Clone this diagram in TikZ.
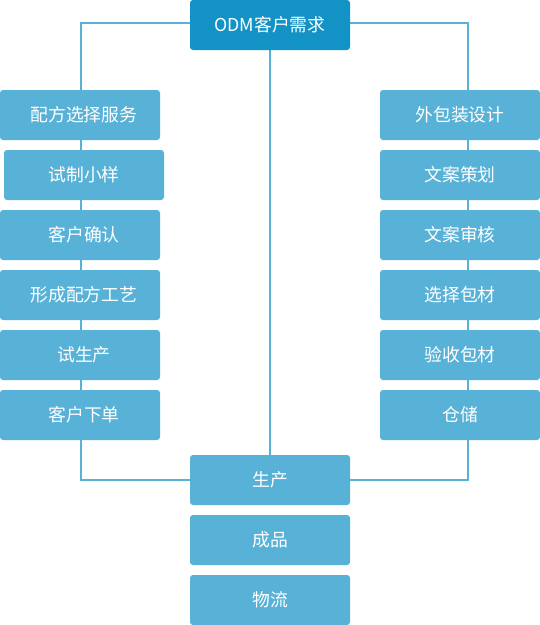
\documentclass[tikz,border=0pt]{standalone}
\usepackage{fontspec}
\setmainfont{Noto Sans CJK SC}
\usetikzlibrary{backgrounds}
\definecolor{boxblue}{HTML}{58B2D8}
\definecolor{topblue}{HTML}{1392C6}
\begin{document}
\begin{tikzpicture}[x=1pt,y=-1pt,
  stepbox/.style={fill=boxblue,rounded corners=3pt,minimum width=160pt,minimum height=50pt,inner sep=0pt,text=white,font=\fontsize{17.8pt}{20pt}\selectfont},
  leftbox/.style={stepbox,execute at begin node={\hspace*{8pt}}},
  topbox/.style={stepbox,fill=topblue},
  link/.style={draw=boxblue,line width=2.6pt}]
\useasboundingbox (0,0) rectangle (540,625);
% nodes
\node[topbox] (odm) at (270,25) {ODM客户需求};
\node[leftbox] (l1) at (80,115) {配方选择服务};
\node[stepbox] (l2) at (84,175) {试制小样};
\node[leftbox] (l3) at (80,235) {客户确认};
\node[leftbox] (l4) at (80,295) {形成配方工艺};
\node[leftbox] (l5) at (80,355) {试生产};
\node[leftbox] (l6) at (80,415) {客户下单};
\node[stepbox] (r1) at (460,115) {外包装设计};
\node[stepbox] (r2) at (460,175) {文案策划};
\node[stepbox] (r3) at (460,235) {文案审核};
\node[stepbox] (r4) at (460,295) {选择包材};
\node[stepbox] (r5) at (460,355) {验收包材};
\node[stepbox] (r6) at (460,415) {仓储};
\node[stepbox] (prod) at (270,480) {生产};
\node[stepbox] (fin) at (270,540) {成品};
\node[stepbox] (log) at (270,600) {物流};
% connectors (behind boxes)
\begin{scope}[on background layer]
\draw[link] ([yshift=2pt]odm.west) -| ([xshift=1pt]l1.center);
\draw[link] ([yshift=2pt]odm.east) -| ([xshift=8pt]r1.center);
\draw[link] (odm.center) -- (prod.center);
\draw[link] ([xshift=1pt]l1.center) -- ([xshift=1pt]l6.center);
\draw[link] ([xshift=8pt]r1.center) -- ([xshift=8pt]r6.center);
\draw[link] ([xshift=1pt]l6.center) |- (prod.center);
\draw[link] ([xshift=8pt]r6.center) |- (prod.center);
\end{scope}
\end{tikzpicture}
\end{document}
